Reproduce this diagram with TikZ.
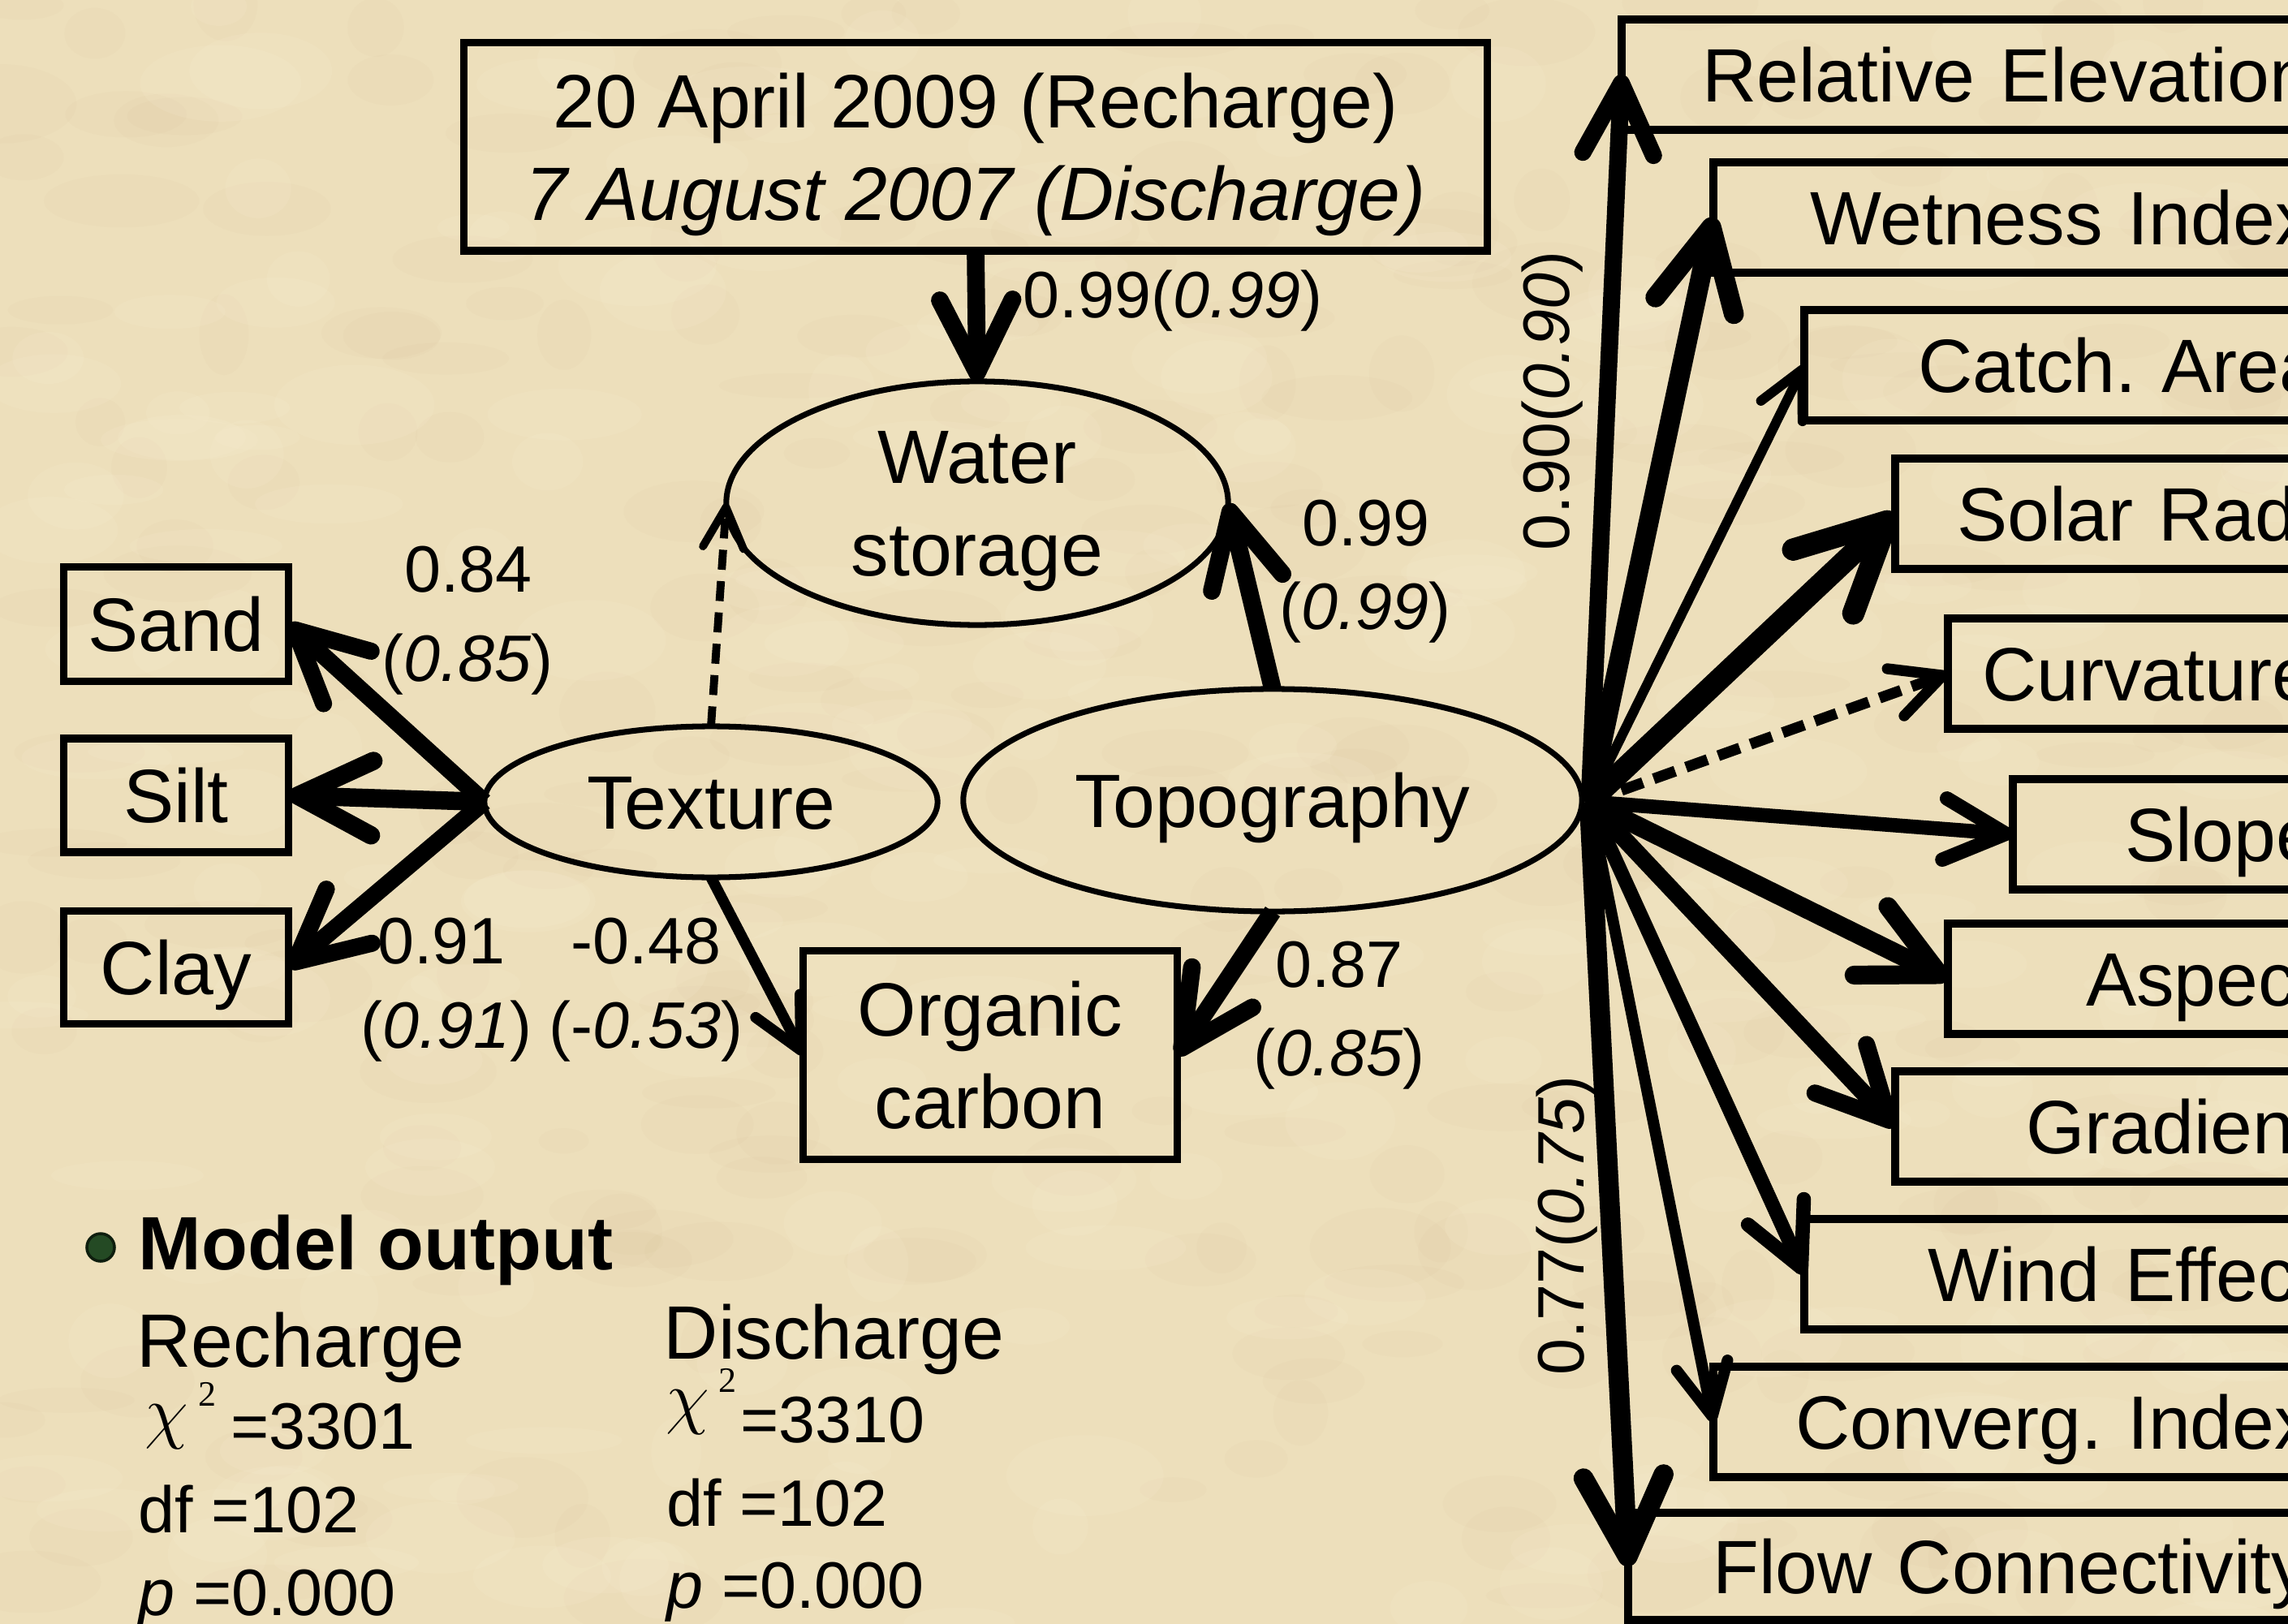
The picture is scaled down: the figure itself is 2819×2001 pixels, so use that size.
\documentclass[tikz,border=0pt]{standalone}
\usepackage{fontspec}
\setmainfont{Liberation Sans}
\newfontfamily\serifgr{Liberation Serif}
\usetikzlibrary{shapes.geometric,arrows.meta,calc}
\definecolor{parch}{RGB}{237,223,187}
\definecolor{parchdark}{RGB}{205,182,138}
\definecolor{parchlight}{RGB}{250,240,212}
\definecolor{bulletgreen}{RGB}{36,74,36}
\newcommand{\mainsize}{\fontsize{26.5}{32.4}\selectfont}
\newcommand{\labsize}{\fontsize{23}{28}\selectfont}
\frenchspacing
\begin{document}
\begin{tikzpicture}[x=0.01cm,y=-0.01cm,
  lat/.style={ellipse, draw, line width=2.0pt, inner sep=0pt, outer sep=0pt, font=\mainsize, align=center},
  obs/.style={rectangle, draw, line width=2.6pt, inner sep=0pt, outer sep=0pt, font=\mainsize, align=center},
  single/.style={text height=19pt, text depth=0pt},
  rbox/.style={rectangle, draw, line width=2.6pt, outer sep=0pt, inner ysep=0pt, minimum height=1.36cm, text width=9cm, align=left, font=\mainsize, text height=19pt, text depth=0pt, anchor=west},
  lab/.style={inner sep=0pt, text height=16.5pt, text depth=0pt, font=\labsize},
  big/.style={inner sep=0pt, text height=19pt, text depth=0pt, font=\mainsize},
  arr/.style={-{Straight Barb[length=5pt 3.3, width=5pt 3.3, round]}},
]
\useasboundingbox (0,0) rectangle (2819,2001);
\clip (0,0) rectangle (2819,2001);
\fill[parch] (0,0) rectangle (2819,2001);
% subtle parchment mottling
\pgfmathsetseed{11}
\foreach \i in {1,...,260}{
  \pgfmathsetmacro{\xx}{rnd*2819}
  \pgfmathsetmacro{\yy}{rnd*2001}
  \pgfmathsetmacro{\rx}{30+rnd*70}
  \pgfmathsetmacro{\ry}{15+rnd*35}
  \fill[parchdark, opacity=0.06] (\xx,\yy) ellipse ({\rx} and {\ry});
}
\foreach \i in {1,...,260}{
  \pgfmathsetmacro{\xx}{rnd*2819}
  \pgfmathsetmacro{\yy}{rnd*2001}
  \pgfmathsetmacro{\rx}{30+rnd*70}
  \pgfmathsetmacro{\ry}{15+rnd*35}
  \fill[parchlight, opacity=0.15] (\xx,\yy) ellipse ({\rx} and {\ry});
}

% ---------- central part
\node[obs, minimum width=12.6cm, minimum height=2.56cm] (top) at (1202,181)
  {20 April 2009 (Recharge)\\\textit{\smash{7 August 2007 (Discharge)}}};
\node[lat, minimum width=6.18cm, minimum height=3.0cm] (ws) at (1204,620) {Water\\\smash{storage}};
\node[lat, single, minimum width=5.58cm, minimum height=1.86cm] (tex) at (876,988) {Texture};
\node[lat, single, minimum width=7.62cm, minimum height=2.74cm] (topo) at (1568,986) {Topography};
\node[obs, minimum width=4.6cm, minimum height=2.57cm] (oc) at (1220,1300) {Organic\\carbon};

% ---------- left boxes
\node[obs, single, minimum width=2.77cm, minimum height=1.41cm] (sand) at (217,769) {Sand};
\node[obs, single, minimum width=2.77cm, minimum height=1.40cm] (silt) at (217,980) {Silt};
\node[obs, single, minimum width=2.77cm, minimum height=1.39cm] (clay) at (217,1192) {Clay};

% ---------- right boxes
\node[rbox, inner xsep=0.99cm] (re) at (1998,92)  {Relative Elevation};
\node[rbox, inner xsep=1.19cm] (wi) at (2111,268) {Wetness Index};
\node[rbox, inner xsep=1.40cm] (ca) at (2223,450) {Catch. Area};
\node[rbox, inner xsep=0.76cm] (sr) at (2335,633) {Solar Radiation};
\node[rbox, inner xsep=0.42cm] (cu) at (2400,830) {Curvature};
\node[rbox, inner xsep=1.38cm] (sl) at (2480,1028) {Slope};
\node[rbox, inner xsep=1.70cm] (as) at (2400,1206) {Aspect};
\node[rbox, inner xsep=1.61cm] (gr) at (2335,1388) {Gradient};
\node[rbox, inner xsep=1.52cm] (we) at (2223,1570) {Wind Effect};
\node[rbox, inner xsep=1.01cm] (ci) at (2111,1752) {Converg. Index};
\node[rbox, inner xsep=1.04cm, minimum height=1.32cm] (fc) at (2006,1930) {Flow Connectivity};

% ---------- connectors
\coordinate (O) at (1958,988);
\draw[arr, line width=6.0pt] (O) -- (re.west);
\draw[arr, line width=7.0pt] (O) -- (wi.west);
\draw[arr, line width=3.4pt] (O) -- (ca.west);
\draw[arr, line width=7.8pt] (O) -- (sr.west);
\draw[arr, line width=3.8pt, dash pattern=on 8pt off 4pt] (O) -- (cu.west);
\draw[arr, line width=5.0pt] (O) -- (sl.west);
\draw[arr, line width=6.6pt] (O) -- (as.west);
\draw[arr, line width=6.0pt] (O) -- (gr.west);
\draw[arr, line width=5.0pt] (O) -- (we.west);
\draw[arr, line width=4.0pt] (O) -- (ci.west);
\draw[arr, line width=7.0pt] (O) -- (fc.west);

\draw[arr, line width=6.0pt] (tex.west) -- (sand.east);
\draw[arr, line width=6.4pt] (tex.west) -- (silt.east);
\draw[arr, line width=6.0pt] (tex.west) -- (clay.east);

\draw[arr, line width=6.2pt] (top.south) -- (ws.north);
\draw[arr, line width=6.2pt] (topo.north) -- (ws.east);
\draw[arr, line width=2.8pt, dash pattern=on 7pt off 4pt] (tex.north) -- (ws.west);
\draw[arr, line width=3.8pt] (tex.south) -- (oc.west);
\draw[arr, line width=6.2pt] (topo.south) -- (oc.east);

% ---------- path labels
\node[lab, anchor=west] (l1) at (1260,362) {0.99(\textit{0.99})};
\node[lab] (l2a) at (1683,643) {0.99};
\node[lab] (l2b) at (1682,746) {(\textit{0.99})};
\node[lab] (l3a) at (577,700) {0.84};
\node[lab] (l3b) at (576,810) {(\textit{0.85})};
\node[lab] (l4a) at (544,1158) {0.91};
\node[lab] (l4b) at (550,1262) {(\textit{0.91})};
\node[lab] (l5a) at (796,1158) {-0.48};
\node[lab] (l5b) at (796,1262) {(-\textit{0.53})};
\node[lab] (l6a) at (1650,1187) {0.87};
\node[lab] (l6b) at (1650,1296) {(\textit{0.85})};
\node[lab, rotate=90] (l7) at (1904,494) {0.90(\textit{0.90})};
\node[lab, rotate=90] (l8) at (1922,1510) {0.77(\textit{0.75})};

% ---------- model output
\node[circle, fill=bulletgreen, draw=black!60!bulletgreen, line width=1pt, minimum size=0.34cm, inner sep=0pt] (bul) at (124,1537) {};
\node[big, anchor=west, font=\mainsize\bfseries] (mo) at (170,1531) {Model output};
\node[big, anchor=west] (rc) at (168,1651) {Recharge};
\node[big, anchor=west] (dc) at (817,1641) {Discharge};

\node[anchor=base west, inner sep=0pt, font=\fontsize{28}{28}\selectfont] (chiR) at (178,1768) {$\chi$};
\node[anchor=base west, inner sep=0pt, font=\fontsize{12.5}{12.5}\selectfont\serifgr] (supR) at (244,1732) {2};
\node[lab, anchor=west] (vR) at (284,1756) {=3301};
\node[lab, anchor=west] (dfR) at (170,1859) {df =102};
\node[lab, anchor=west] (pR) at (170,1961) {\textit{p} =0.000};

\node[anchor=base west, inner sep=0pt, font=\fontsize{28}{28}\selectfont] (chiD) at (820,1750) {$\chi$};
\node[anchor=base west, inner sep=0pt, font=\fontsize{12.5}{12.5}\selectfont\serifgr] (supD) at (885,1715) {2};
\node[lab, anchor=west] (vD) at (912,1748) {=3310};
\node[lab, anchor=west] (dfD) at (821,1851) {df =102};
\node[lab, anchor=west] (pD) at (821,1952) {\textit{p} =0.000};
\end{tikzpicture}
\end{document}
